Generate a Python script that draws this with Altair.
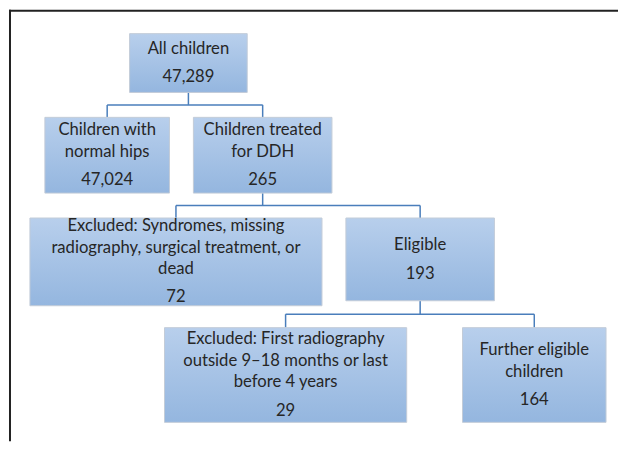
import altair as alt
import pandas as pd

# ---- content ----
node_ids = ["all", "normal", "ddh", "excl1", "eligible", "excl2", "further"]
node_lines = [
    ["All children"],
    ["Children with", "normal hips"],
    ["Children treated", "for DDH"],
    ["Excluded: Syndromes, missing", "radiography, surgical treatment, or", "dead"],
    ["Eligible"],
    ["Excluded: First radiography", "outside 9–18 months or last", "before 4 years"],
    ["Further eligible", "children"],
]
node_counts = ["47,289", "47,024", "265", "72", "193", "29", "164"]
edges = [("all", ["normal", "ddh"]), ("ddh", ["excl1", "eligible"]), ("eligible", ["excl2", "further"])]

# ---- layout (page pixel coordinates of each box: left, right, top, bottom) ----
box_layout = {
    "all": (129, 247, 32, 91),
    "normal": (44, 169, 116, 192),
    "ddh": (193, 332, 116, 192),
    "excl1": (29, 322, 217, 305),
    "eligible": (346, 495, 217, 300),
    "excl2": (164, 407, 327, 422),
    "further": (463, 607, 327, 422),
}
LINE_H = 21.5
COUNT_GAP = 28.5

boxes, texts, segs = [], [], []
for nid, lines, cnt in zip(node_ids, node_lines, node_counts):
    x0, x1, y0, y1 = box_layout[nid]
    boxes.append(dict(x=x0, x2=x1, y=y0, y2=y1))
    cx = (x0 + x1) / 2
    block = (len(lines) - 1) * LINE_H + COUNT_GAP
    ystart = (y0 + y1) / 2 - block / 2
    for i, ln in enumerate(lines):
        texts.append(dict(x=cx, y=ystart + i * LINE_H, t=ln))
    texts.append(dict(x=cx, y=ystart + (len(lines) - 1) * LINE_H + COUNT_GAP, t=cnt))

for parent, kids in edges:
    px0, px1, py0, py1 = box_layout[parent]
    pcx = (px0 + px1) / 2
    ktop = min(box_layout[k][2] for k in kids)
    mid = (py1 + ktop) / 2
    segs.append(dict(x=pcx, x2=pcx, y=py1, y2=mid))
    kcx = [(box_layout[k][0] + box_layout[k][1]) / 2 for k in kids]
    segs.append(dict(x=min(kcx), x2=max(kcx), y=mid, y2=mid))
    for k, c in zip(kids, kcx):
        segs.append(dict(x=c, x2=c, y=mid, y2=box_layout[k][2]))

frame = [dict(x=8, x2=619, y=9, y2=9), dict(x=9, x2=9, y=8, y2=441)]

xs = alt.Scale(domain=[8, 619], nice=False, zero=False)
ys = alt.Scale(domain=[8, 441], nice=False, zero=False, reverse=True)

grad = alt.Gradient(
    gradient="linear",
    stops=[alt.GradientStop(color="#b8cfec", offset=0), alt.GradientStop(color="#94b6df", offset=1)],
    x1=0, x2=0, y1=0, y2=1,
)

box_layer = alt.Chart(pd.DataFrame(boxes)).mark_rect(
    color=grad, stroke="#c3ccd8", strokeWidth=1
).encode(
    x=alt.X("x:Q", scale=xs, axis=None), x2="x2:Q",
    y=alt.Y("y:Q", scale=ys, axis=None), y2="y2:Q",
)

seg_layer = alt.Chart(pd.DataFrame(segs)).mark_rule(
    color="#4a7ebb", strokeWidth=1.5
).encode(
    x=alt.X("x:Q", scale=xs, axis=None), x2="x2:Q",
    y=alt.Y("y:Q", scale=ys, axis=None), y2="y2:Q",
)

frame_layer = alt.Chart(pd.DataFrame(frame)).mark_rule(
    color="#222222", strokeWidth=2
).encode(
    x=alt.X("x:Q", scale=xs, axis=None), x2="x2:Q",
    y=alt.Y("y:Q", scale=ys, axis=None), y2="y2:Q",
)

text_layer = alt.Chart(pd.DataFrame(texts)).mark_text(
    align="center", baseline="middle", font="Lato", fontSize=16.7, color="#262626"
).encode(
    x=alt.X("x:Q", scale=xs, axis=None),
    y=alt.Y("y:Q", scale=ys, axis=None),
    text="t:N",
)

chart = alt.layer(frame_layer, seg_layer, box_layer, text_layer).properties(
    width=611, height=433, padding=0
).configure_view(stroke=None)

chart.save("out.html", embed_options={"renderer": "svg", "actions": False})
